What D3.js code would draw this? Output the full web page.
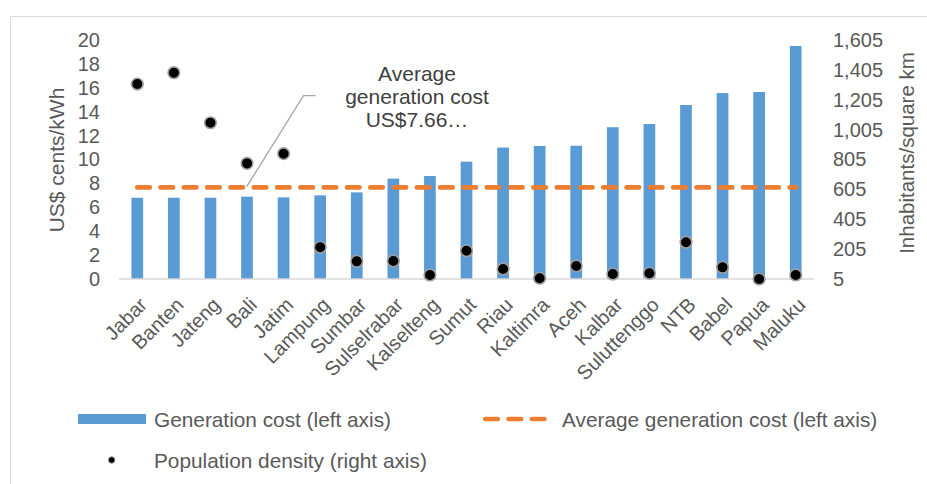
<!DOCTYPE html>
<html>
<head>
<meta charset="utf-8">
<script src="https://cdn.jsdelivr.net/npm/d3@7"></script>
<style>
  html, body { margin: 0; padding: 0; background: #fff; }
  svg { display: block; font-family: "Liberation Sans", Arial, sans-serif; }
</style>
</head>
<body>
<svg id="chart" width="927" height="484"></svg>
<script>
const categories = ["Jabar","Banten","Jateng","Bali","Jatim","Lampung","Sumbar","Sulselrabar","Kalselteng","Sumut","Riau","Kaltimra","Aceh","Kalbar","Suluttenggo","NTB","Babel","Papua","Maluku"];
const generationCost = [6.8,6.8,6.8,6.89,6.83,7.0,7.25,8.4,8.62,9.82,11.0,11.13,11.15,12.7,12.97,14.56,15.56,15.65,19.5];
const populationDensity = [1310,1386,1051,779,844,217,123,125,32,194,72,10,92,38,43,251,83,5,32];
const averageCost = 7.66;
const leftTicks = [0,2,4,6,8,10,12,14,16,18,20];
const rightTicks = [5,205,405,605,805,1005,1205,1405,1605];
const legendLabels = ["Generation cost (left axis)","Average generation cost (left axis)","Population density (right axis)"];
const annotationLines = ["Average","generation cost","US$7.66\u2026"];

const svg = d3.select("#chart");
const textColor = "#595959";
const blue = "#5B9BD5", orange = "#ED7D31";

// chart border
svg.append("path").attr("d","M10.5,484 V16.5 H927").attr("fill","none").attr("stroke","#d9d9d9").attr("stroke-width",1);

const x = d3.scaleBand().domain(categories).range([119, 814]).paddingInner(0.68).paddingOuter(0.34);
const xc = d => x(d) + x.bandwidth()/2;
const yL = d3.scaleLinear().domain([0,20]).range([279,40]);
const yR = d3.scaleLinear().domain([5,1605]).range([279,40]);

// left axis
const axL = d3.axisLeft(yL).tickValues(leftTicks).tickSize(0).tickPadding(0);
const gL = svg.append("g").attr("transform","translate(100,0)").call(axL);
gL.select(".domain").remove();
gL.selectAll("text").attr("fill",textColor).attr("font-size",20).attr("font-family","Liberation Sans, Arial, sans-serif");

// right axis
const axR = d3.axisRight(yR).tickValues(rightTicks).tickSize(0).tickPadding(0).tickFormat(d3.format(","));
const gR = svg.append("g").attr("transform","translate(833,0)").call(axR);
gR.select(".domain").remove();
gR.selectAll("text").attr("fill",textColor).attr("font-size",20).attr("font-family","Liberation Sans, Arial, sans-serif");

// axis titles
svg.append("text").attr("transform","translate(57,160) rotate(-90)").attr("text-anchor","middle").attr("dy","0.35em")
  .attr("fill",textColor).attr("font-size",21).text("US$ cents/kWh");
svg.append("text").attr("transform","translate(907,153) rotate(-90)").attr("text-anchor","middle").attr("dy","0.35em")
  .attr("fill",textColor).attr("font-size",20.5).text("Inhabitants/square km");

// bars
svg.append("g").selectAll("rect").data(categories).join("rect")
  .attr("x", d => x(d)).attr("width", x.bandwidth())
  .attr("y", (d,i) => yL(generationCost[i])).attr("height", (d,i) => yL(0) - yL(generationCost[i]))
  .attr("fill", blue);

// baseline
svg.append("line").attr("x1",119).attr("x2",814).attr("y1",yL(0)).attr("y2",yL(0))
  .attr("stroke","#d9d9d9").attr("stroke-width",1.5);

// average line
svg.append("line").attr("x1",xc(categories[0])).attr("x2",xc(categories[categories.length-1]))
  .attr("y1",yL(averageCost)).attr("y2",yL(averageCost))
  .attr("stroke",orange).attr("stroke-width",4.7).attr("stroke-linecap","round").attr("stroke-dasharray","12.5,10.8");

// dots
svg.append("g").selectAll("circle").data(categories).join("circle")
  .attr("cx", d => xc(d)).attr("cy", (d,i) => yR(populationDensity[i])).attr("r",5.8)
  .attr("fill","#000").attr("stroke","#a0a0a0").attr("stroke-width",1.6);

// x labels
svg.append("g").selectAll("text").data(categories).join("text")
  .attr("transform", d => `translate(${xc(d)+1},${296}) rotate(-45)`)
  .attr("text-anchor","end").attr("dy","0.71em")
  .attr("fill",textColor).attr("font-size",20).text(d => d);

// annotation
const ann = svg.append("g");
ann.append("path").attr("d","M246.7,186.7 L303.5,95.7 H315.5").attr("fill","none").attr("stroke","#a6a6a6").attr("stroke-width",1.3);
ann.selectAll("text").data(annotationLines).join("text")
  .attr("x",417).attr("y",(d,i)=>80.5 + i*23.4).attr("text-anchor","middle")
  .attr("fill","#404040").attr("font-size",21).text(d=>d);

// legend
const lg = svg.append("g");
lg.append("rect").attr("x",78).attr("y",414).attr("width",68).attr("height",10).attr("fill",blue);
lg.append("text").attr("x",154).attr("y",427).attr("fill",textColor).attr("font-size",20.8).text(legendLabels[0]);
lg.append("line").attr("x1",485.3).attr("x2",544.4).attr("y1",419).attr("y2",419)
  .attr("stroke",orange).attr("stroke-width",4.7).attr("stroke-linecap","round").attr("stroke-dasharray","12.5,10.8");
lg.append("text").attr("x",562).attr("y",427).attr("fill",textColor).attr("font-size",20.8).text(legendLabels[1]);
lg.append("circle").attr("cx",111.7).attr("cy",460).attr("r",3.3).attr("fill","#000").attr("stroke","#a0a0a0").attr("stroke-width",1);
lg.append("text").attr("x",154).attr("y",468).attr("fill",textColor).attr("font-size",20.8).text(legendLabels[2]);
</script>
</body>
</html>
